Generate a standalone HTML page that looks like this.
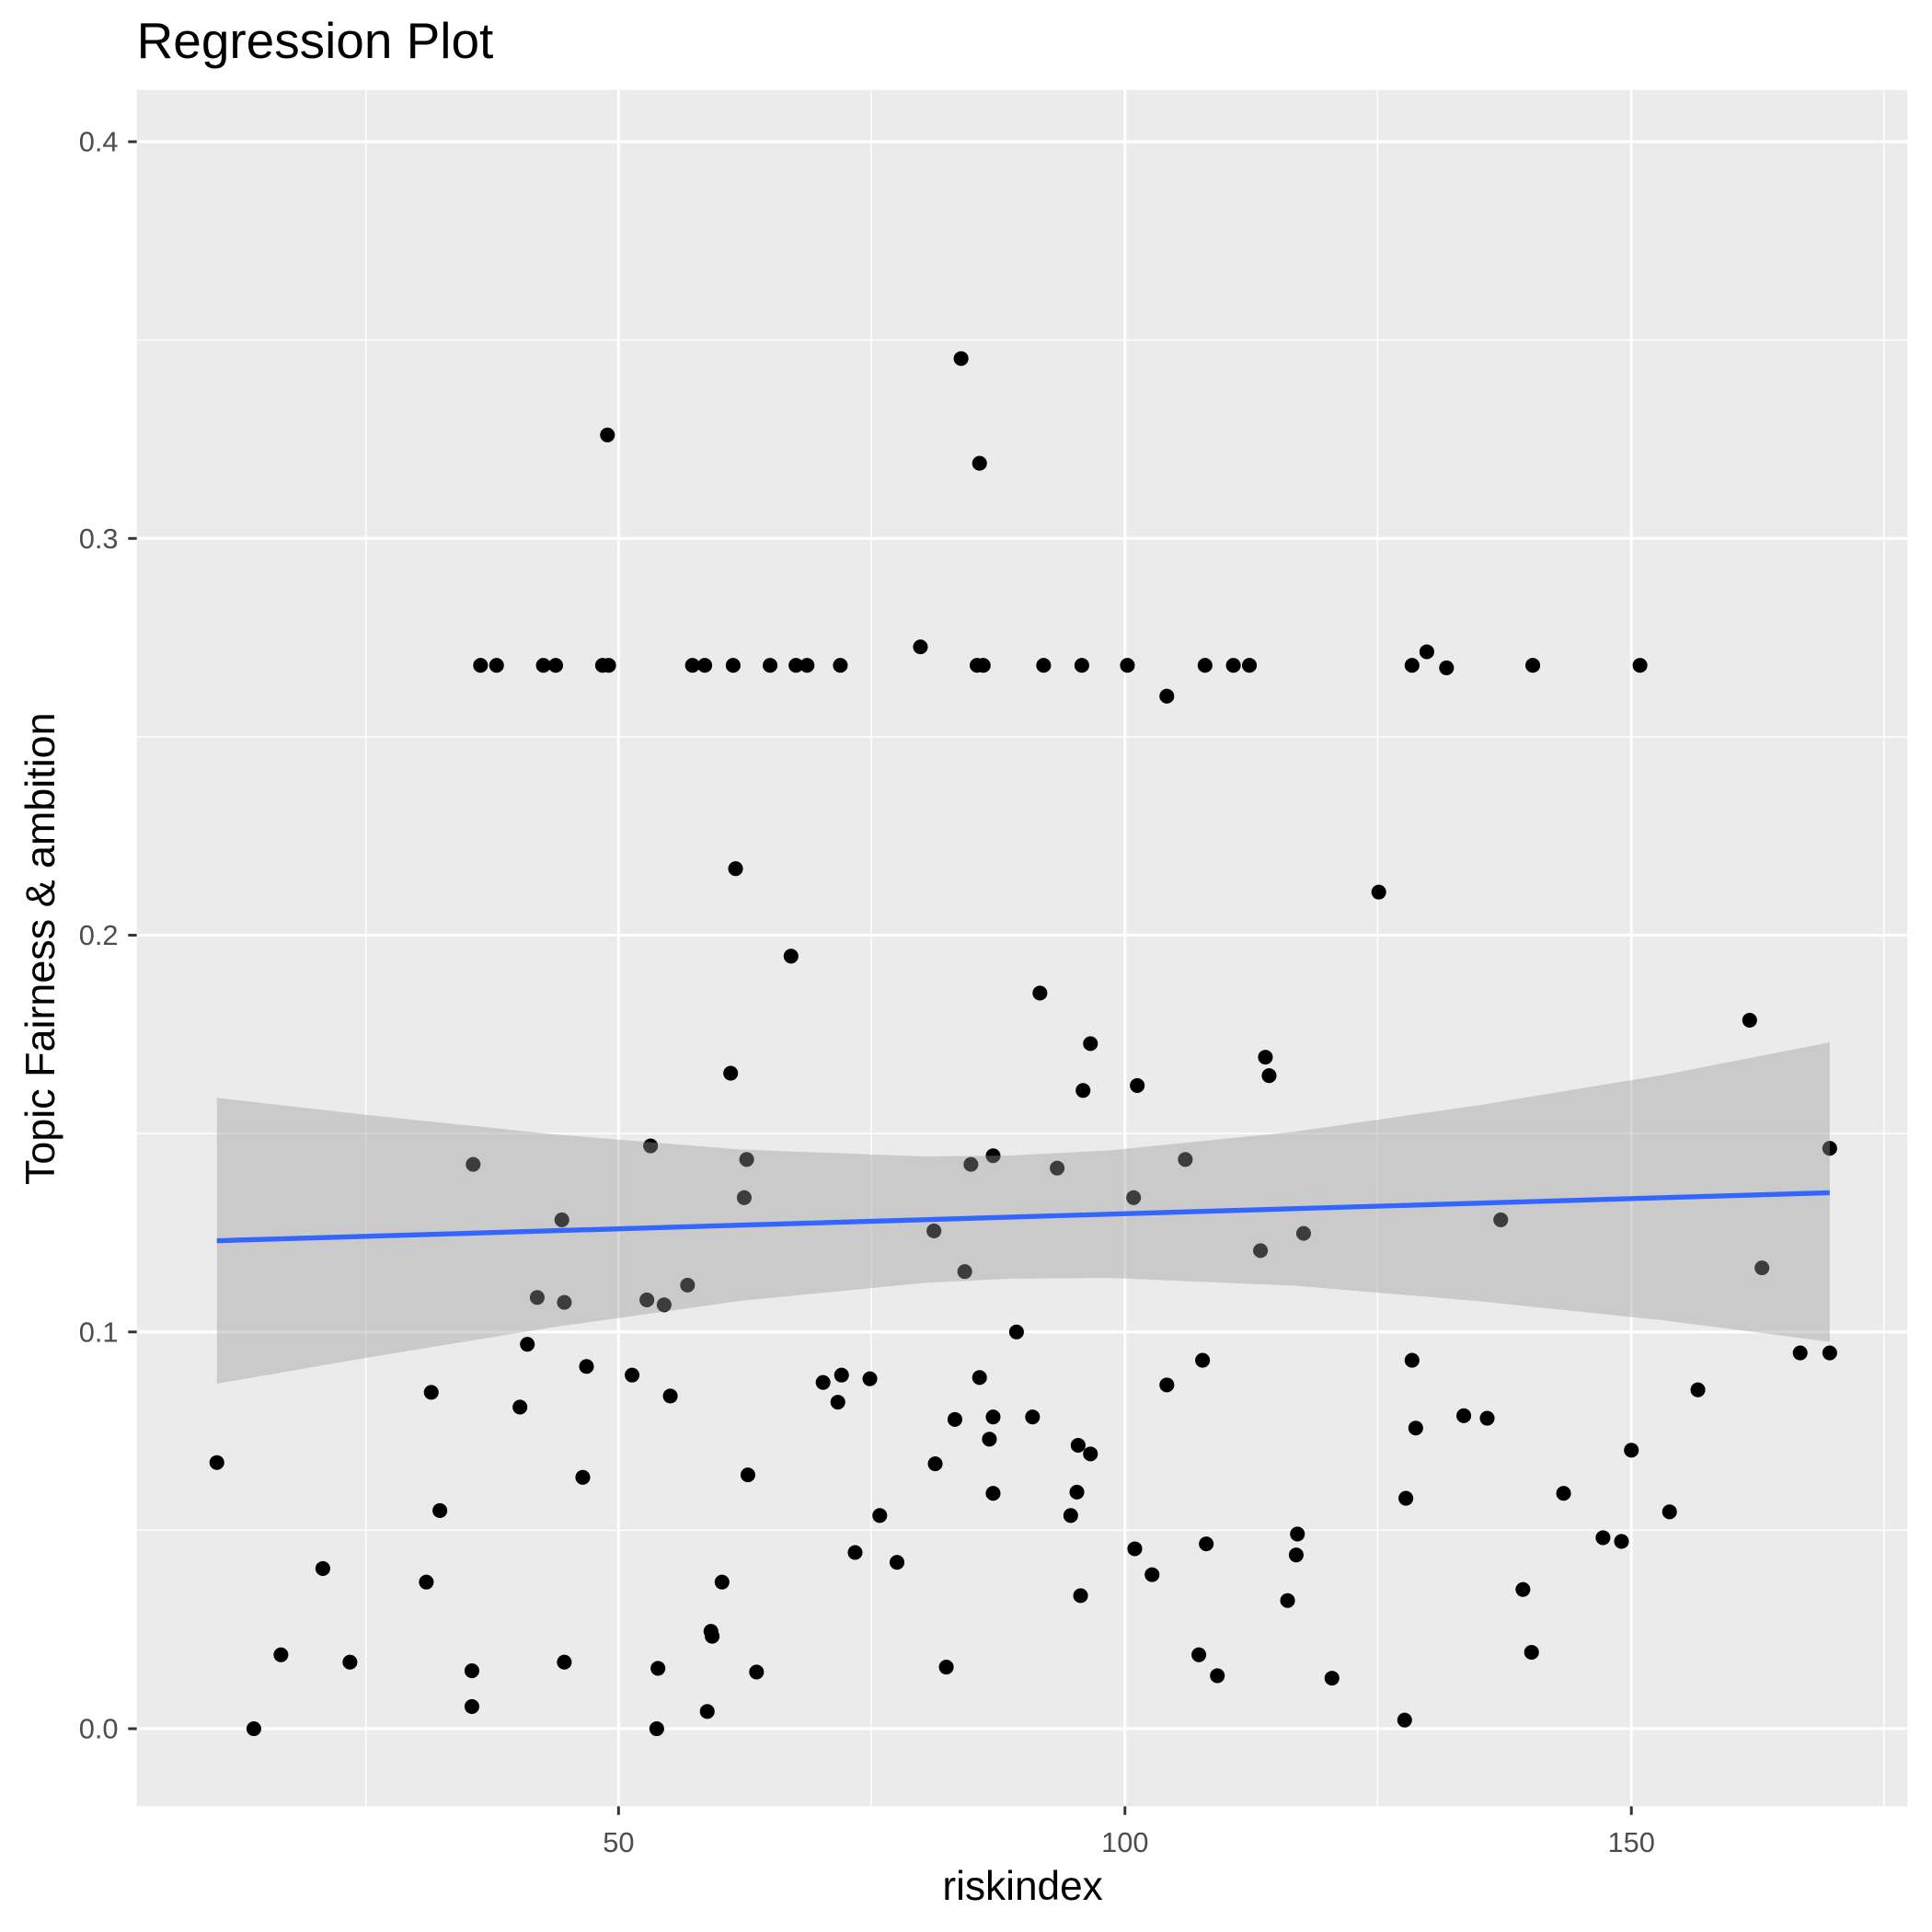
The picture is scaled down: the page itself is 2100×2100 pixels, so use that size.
<!DOCTYPE html>
<html><head><meta charset="utf-8"><style>html,body{margin:0;padding:0;background:#fff}svg{display:block}</style></head>
<body>
<svg xmlns="http://www.w3.org/2000/svg" width="2100" height="2100" viewBox="0 0 1568 1568" font-family="Liberation Sans, Arial, sans-serif">
<rect width="1568" height="1568" fill="#fff"/>
<rect x="111" y="73" width="1437" height="1393" fill="#ebebeb"/>
<g stroke="#fff" stroke-width="1.1">
<line x1="111" x2="1548" y1="1242" y2="1242"/><line x1="111" x2="1548" y1="920" y2="920"/><line x1="111" x2="1548" y1="598" y2="598"/><line x1="111" x2="1548" y1="276" y2="276"/>
<line y1="73" y2="1466" x1="297" x2="297"/><line y1="73" y2="1466" x1="707" x2="707"/><line y1="73" y2="1466" x1="1118" x2="1118"/><line y1="73" y2="1466" x1="1529" x2="1529"/>
</g>
<g stroke="#fff" stroke-width="2.2">
<line x1="111" x2="1548" y1="1403" y2="1403"/><line x1="111" x2="1548" y1="1081" y2="1081"/><line x1="111" x2="1548" y1="759" y2="759"/><line x1="111" x2="1548" y1="437" y2="437"/><line x1="111" x2="1548" y1="115" y2="115"/>
<line y1="73" y2="1466" x1="502" x2="502"/><line y1="73" y2="1466" x1="913" x2="913"/><line y1="73" y2="1466" x1="1324" x2="1324"/>
</g>
<g fill="#000">
<circle cx="176" cy="1187" r="6"/><circle cx="206" cy="1403" r="6"/><circle cx="228" cy="1343" r="6"/><circle cx="262" cy="1273" r="6"/><circle cx="284" cy="1349" r="6"/><circle cx="346" cy="1284" r="6"/><circle cx="350" cy="1130" r="6"/><circle cx="357" cy="1226" r="6"/><circle cx="383" cy="1356" r="6"/><circle cx="383" cy="1385" r="6"/><circle cx="384" cy="945" r="6"/><circle cx="390" cy="540" r="6"/><circle cx="403" cy="540" r="6"/><circle cx="422" cy="1142" r="6"/><circle cx="428" cy="1091" r="6"/><circle cx="436" cy="1053" r="6"/><circle cx="441" cy="540" r="6"/><circle cx="451" cy="540" r="6"/><circle cx="456" cy="990" r="6"/><circle cx="458" cy="1057" r="6"/><circle cx="458" cy="1349" r="6"/><circle cx="473" cy="1199" r="6"/><circle cx="476" cy="1109" r="6"/><circle cx="489" cy="540" r="6"/><circle cx="494" cy="540" r="6"/><circle cx="493" cy="353" r="6"/><circle cx="513" cy="1116" r="6"/><circle cx="525" cy="1055" r="6"/><circle cx="528" cy="930" r="6"/><circle cx="533" cy="1403" r="6"/><circle cx="534" cy="1354" r="6"/><circle cx="539" cy="1059" r="6"/><circle cx="544" cy="1133" r="6"/><circle cx="558" cy="1043" r="6"/><circle cx="562" cy="540" r="6"/><circle cx="572" cy="540" r="6"/><circle cx="574" cy="1389" r="6"/><circle cx="577" cy="1324" r="6"/><circle cx="578" cy="1328" r="6"/><circle cx="586" cy="1284" r="6"/><circle cx="593" cy="871" r="6"/><circle cx="595" cy="540" r="6"/><circle cx="597" cy="705" r="6"/><circle cx="604" cy="972" r="6"/><circle cx="606" cy="941" r="6"/><circle cx="607" cy="1197" r="6"/><circle cx="614" cy="1357" r="6"/><circle cx="625" cy="540" r="6"/><circle cx="642" cy="776" r="6"/><circle cx="646" cy="540" r="6"/><circle cx="655" cy="540" r="6"/><circle cx="668" cy="1122" r="6"/><circle cx="680" cy="1138" r="6"/><circle cx="682" cy="540" r="6"/><circle cx="683" cy="1116" r="6"/><circle cx="694" cy="1260" r="6"/><circle cx="706" cy="1119" r="6"/><circle cx="714" cy="1230" r="6"/><circle cx="728" cy="1268" r="6"/><circle cx="747" cy="525" r="6"/><circle cx="758" cy="999" r="6"/><circle cx="759" cy="1188" r="6"/><circle cx="768" cy="1353" r="6"/><circle cx="775" cy="1152" r="6"/><circle cx="780" cy="291" r="6"/><circle cx="783" cy="1032" r="6"/><circle cx="788" cy="945" r="6"/><circle cx="795" cy="376" r="6"/><circle cx="795" cy="1118" r="6"/><circle cx="793" cy="540" r="6"/><circle cx="798" cy="540" r="6"/><circle cx="803" cy="1168" r="6"/><circle cx="806" cy="1150" r="6"/><circle cx="806" cy="938" r="6"/><circle cx="806" cy="1212" r="6"/><circle cx="825" cy="1081" r="6"/><circle cx="838" cy="1150" r="6"/><circle cx="844" cy="806" r="6"/><circle cx="847" cy="540" r="6"/><circle cx="858" cy="948" r="6"/><circle cx="869" cy="1230" r="6"/><circle cx="874" cy="1211" r="6"/><circle cx="875" cy="1173" r="6"/><circle cx="877" cy="1295" r="6"/><circle cx="878" cy="540" r="6"/><circle cx="879" cy="885" r="6"/><circle cx="885" cy="847" r="6"/><circle cx="885" cy="1180" r="6"/><circle cx="915" cy="540" r="6"/><circle cx="920" cy="972" r="6"/><circle cx="921" cy="1257" r="6"/><circle cx="923" cy="881" r="6"/><circle cx="935" cy="1278" r="6"/><circle cx="947" cy="565" r="6"/><circle cx="947" cy="1124" r="6"/><circle cx="962" cy="941" r="6"/><circle cx="973" cy="1343" r="6"/><circle cx="976" cy="1104" r="6"/><circle cx="978" cy="540" r="6"/><circle cx="979" cy="1253" r="6"/><circle cx="988" cy="1360" r="6"/><circle cx="1001" cy="540" r="6"/><circle cx="1014" cy="540" r="6"/><circle cx="1023" cy="1015" r="6"/><circle cx="1027" cy="858" r="6"/><circle cx="1030" cy="873" r="6"/><circle cx="1045" cy="1299" r="6"/><circle cx="1052" cy="1262" r="6"/><circle cx="1053" cy="1245" r="6"/><circle cx="1058" cy="1001" r="6"/><circle cx="1081" cy="1362" r="6"/><circle cx="1119" cy="724" r="6"/><circle cx="1140" cy="1396" r="6"/><circle cx="1141" cy="1216" r="6"/><circle cx="1146" cy="540" r="6"/><circle cx="1146" cy="1104" r="6"/><circle cx="1149" cy="1159" r="6"/><circle cx="1158" cy="529" r="6"/><circle cx="1174" cy="542" r="6"/><circle cx="1188" cy="1149" r="6"/><circle cx="1207" cy="1151" r="6"/><circle cx="1218" cy="990" r="6"/><circle cx="1236" cy="1290" r="6"/><circle cx="1243" cy="1341" r="6"/><circle cx="1244" cy="540" r="6"/><circle cx="1269" cy="1212" r="6"/><circle cx="1301" cy="1248" r="6"/><circle cx="1316" cy="1251" r="6"/><circle cx="1324" cy="1177" r="6"/><circle cx="1331" cy="540" r="6"/><circle cx="1355" cy="1227" r="6"/><circle cx="1378" cy="1128" r="6"/><circle cx="1420" cy="828" r="6"/><circle cx="1430" cy="1029" r="6"/><circle cx="1461" cy="1098" r="6"/><circle cx="1485" cy="1098" r="6"/><circle cx="1485" cy="932" r="6"/>
</g>
<path fill="#999" fill-opacity="0.4" d="M176,891 L300,905.1 L450,920.6 L600,932.9 L750,938.6 L820,937.8 L900,933.7 L1050,918.6 L1200,897 L1350,872.4 L1485,846 L1485,1089 L1350,1071.6 L1200,1056 L1050,1043.4 L900,1037.1 L820,1037.8 L750,1041.2 L600,1055.9 L450,1077 L300,1101.5 L176,1123 Z"/>
<line x1="176" y1="1007" x2="1485" y2="968" stroke="#3366ff" stroke-width="4"/>
<g stroke="#333" stroke-width="2.2">
<line x1="104" x2="111" y1="1403" y2="1403"/><line x1="104" x2="111" y1="1081" y2="1081"/><line x1="104" x2="111" y1="759" y2="759"/><line x1="104" x2="111" y1="437" y2="437"/><line x1="104" x2="111" y1="115" y2="115"/>
<line y1="1466" y2="1473" x1="502" x2="502"/><line y1="1466" y2="1473" x1="913" x2="913"/><line y1="1466" y2="1473" x1="1324" x2="1324"/>
</g>
<g fill="#4d4d4d" font-size="23" text-anchor="end">
<text x="96" y="1411">0.0</text><text x="96" y="1089">0.1</text><text x="96" y="767">0.2</text><text x="96" y="445">0.3</text><text x="96" y="123">0.4</text>
</g>
<g fill="#4d4d4d" font-size="23" text-anchor="middle">
<text x="502" y="1503">50</text><text x="913" y="1503">100</text><text x="1324" y="1503">150</text>
</g>
<text x="830" y="1542" font-size="33" text-anchor="middle">riskindex</text>
<text transform="translate(44,770) rotate(-90)" font-size="33.5" text-anchor="middle">Topic Fairness &amp; ambition</text>
<text x="111" y="47" font-size="41">Regression Plot</text>
</svg>
</body></html>
